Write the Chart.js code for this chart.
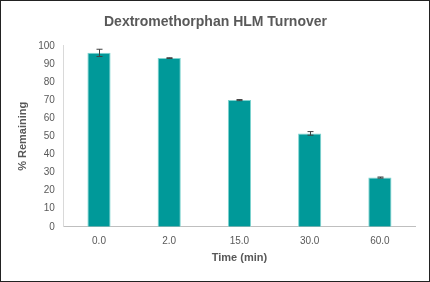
<!DOCTYPE html>
<html>
<head>
<meta charset="utf-8">
<script src="https://cdn.jsdelivr.net/npm/chart.js@4.4.1/dist/chart.umd.min.js"></script>
<style>
  html, body { margin: 0; padding: 0; background: #fff; }
  canvas { display: block; }
</style>
</head>
<body>
<canvas id="turnoverChart" width="430" height="282"></canvas>
<script>
const timeLabels = ["0.0", "2.0", "15.0", "30.0", "60.0"];
const remaining = [96.1, 93.2, 70.0, 51.6, 27.2];
const errors = [2.0, 0.2, 0.3, 1.0, 0.3];
const yTicks = [0, 10, 20, 30, 40, 50, 60, 70, 80, 90, 100];

const textColor = "#595959";
const fontFamily = "'Liberation Sans', Arial, sans-serif";

const errorBars = {
  id: "errorBars",
  afterDatasetsDraw(chart) {
    const ctx = chart.ctx;
    const meta = chart.getDatasetMeta(0);
    const y = chart.scales.y;
    ctx.save();
    ctx.strokeStyle = "#404040";
    ctx.lineWidth = 1;
    meta.data.forEach(function (bar, i) {
      const x = Math.round(bar.x) + 0.5;
      const top = y.getPixelForValue(remaining[i] + errors[i]);
      const bottom = y.getPixelForValue(remaining[i] - errors[i]);
      ctx.beginPath();
      ctx.moveTo(x, top);
      ctx.lineTo(x, bottom);
      ctx.moveTo(x - 3, top);
      ctx.lineTo(x + 3, top);
      ctx.moveTo(x - 3, bottom);
      ctx.lineTo(x + 3, bottom);
      ctx.stroke();
    });
    ctx.restore();
  },
};

const frame = {
  id: "frame",
  afterDraw(chart) {
    const ctx = chart.ctx;
    ctx.save();
    ctx.strokeStyle = "#222";
    ctx.lineWidth = 1;
    ctx.strokeRect(0.5, 0.5, chart.width - 1, chart.height - 1);
    ctx.restore();
  },
};

new Chart(document.getElementById("turnoverChart").getContext("2d"), {
  type: "bar",
  data: {
    labels: timeLabels,
    datasets: [
      {
        data: remaining,
        backgroundColor: "#009999",
        borderColor: "#7fd4d0",
        borderWidth: 1,
        barPercentage: 0.33,
        categoryPercentage: 1,
      },
    ],
  },
  options: {
    responsive: false,
    animation: false,
    layout: {
      padding: { left: 16, right: 15, top: 0, bottom: 17 },
    },
    plugins: {
      legend: { display: false },
      tooltip: { enabled: false },
      title: {
        display: true,
        text: "Dextromethorphan HLM Turnover",
        color: textColor,
        font: { family: fontFamily, size: 14, weight: "bold" },
        padding: { top: 14, bottom: 15 },
      },
    },
    scales: {
      x: {
        grid: { display: false, drawTicks: false },
        border: { color: "#bfbfbf" },
        ticks: {
          color: textColor,
          font: { family: fontFamily, size: 10 },
          padding: 8,
        },
        title: {
          display: true,
          text: "Time (min)",
          color: textColor,
          font: { family: fontFamily, size: 11, weight: "bold" },
          padding: { top: -3, bottom: 0 },
        },
      },
      y: {
        min: 0,
        max: 100,
        afterBuildTicks(scale) {
          scale.ticks = yTicks.map(function (v) { return { value: v }; });
        },
        grid: { display: false, drawTicks: false },
        border: { color: "#d9d9d9" },
        ticks: {
          color: textColor,
          font: { family: fontFamily, size: 10 },
          padding: 9,
        },
        title: {
          display: true,
          text: "% Remaining",
          color: textColor,
          font: { family: fontFamily, size: 11, weight: "bold" },
          padding: { top: 0, bottom: 0 },
        },
      },
    },
  },
  plugins: [errorBars, frame],
});
</script>
</body>
</html>
